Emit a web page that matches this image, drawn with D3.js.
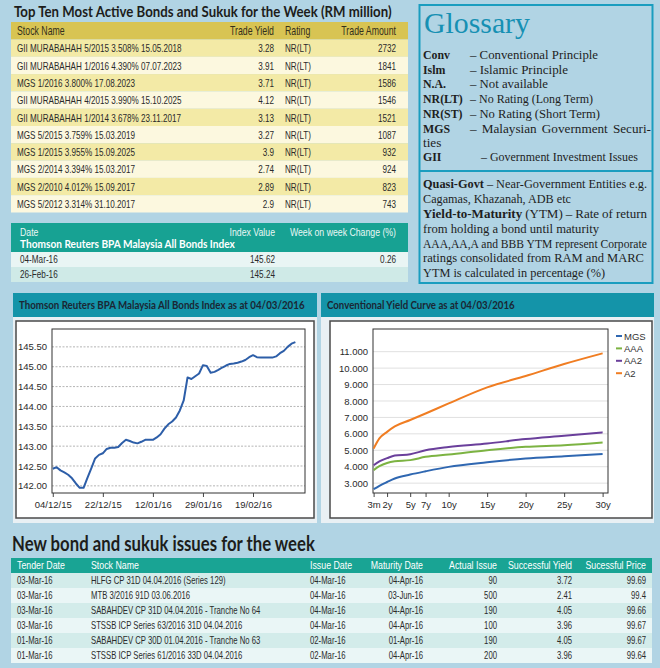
<!DOCTYPE html>
<html><head><meta charset="utf-8">
<script src="https://cdn.jsdelivr.net/npm/d3@7"></script>
<style>body{margin:0;background:#b1d4e4;}svg{display:block}</style>
</head><body><svg id="c" width="660" height="668"></svg>
<script>
// ---------------- DATA ----------------
const topTitle = "Top Ten Most Active Bonds and Sukuk for the Week (RM million)";
const topHeaders = ["Stock Name", "Trade Yield", "Rating", "Trade Amount"];
const topStocks = [
  "GII MURABAHAH 5/2015 3.508% 15.05.2018",
  "GII MURABAHAH 1/2016 4.390% 07.07.2023",
  "MGS 1/2016 3.800% 17.08.2023",
  "GII MURABAHAH 4/2015 3.990% 15.10.2025",
  "GII MURABAHAH 1/2014 3.678% 23.11.2017",
  "MGS 5/2015 3.759% 15.03.2019",
  "MGS 1/2015 3.955% 15.09.2025",
  "MGS 2/2014 3.394% 15.03.2017",
  "MGS 2/2010 4.012% 15.09.2017",
  "MGS 5/2012 3.314% 31.10.2017"
];
const topYields = [3.28, 3.91, 3.71, 4.12, 3.13, 3.27, 3.9, 2.74, 2.89, 2.9];
const topRatings = ["NR(LT)", "NR(LT)", "NR(LT)", "NR(LT)", "NR(LT)", "NR(LT)", "NR(LT)", "NR(LT)", "NR(LT)", "NR(LT)"];
const topAmounts = [2732, 1841, 1586, 1546, 1521, 1087, 932, 924, 823, 743];

const indexHeaders = ["Date", "Index Value", "Week on week Change (%)"];
const indexName = "Thomson Reuters BPA Malaysia All Bonds Index";
const indexDates = ["04-Mar-16", "26-Feb-16"];
const indexValues = [145.62, 145.24];
const indexChanges = ["0.26", ""];

const glossAbbr = ["Conv", "Islm", "N.A.", "NR(LT)", "NR(ST)", "MGS", "GII"];
const glossDef = ["– Conventional Principle", "– Islamic Principle", "– Not available",
  "– No Rating (Long Term)", "– No Rating (Short Term)", "– Malaysian Government Securi-",
  "– Government Investment Issues"];

const bpaTitle = "Thomson Reuters BPA Malaysia All Bonds Index as at 04/03/2016";
const bpaValues = [
  142.43,142.47,142.39,142.34,142.28,142.19,142.06,141.95,141.95,142.20,
  142.44,142.69,142.78,142.82,142.93,142.96,142.96,142.98,143.08,143.16,
  143.13,143.09,143.07,143.11,143.16,143.16,143.16,143.22,143.30,143.44,
  143.55,143.62,143.72,143.90,144.15,144.73,144.69,144.76,144.83,145.04,
  145.02,144.85,144.87,144.92,144.98,145.03,145.07,145.08,145.10,145.13,
  145.17,145.24,145.29,145.24,145.23,145.23,145.23,145.23,145.26,145.34,
  145.40,145.50,145.58,145.62];
const bpaTickIdx = [0, 13, 26, 39, 52];
const bpaTickLabels = ["04/12/15", "22/12/15", "12/01/16", "29/01/16", "19/02/16"];
const bpaYTicks = [142.0, 142.5, 143.0, 143.5, 144.0, 144.5, 145.0, 145.5];

const curveTitle = "Conventional Yield Curve as at 04/03/2016";
const tenors = [0.25, 1, 2, 3, 5, 7, 10, 15, 20, 25, 30];
const mgsYield = [2.63, 2.84, 3.07, 3.28, 3.52, 3.72, 3.99, 4.27, 4.50, 4.64, 4.78];
const aaaYield = [3.79, 4.03, 4.23, 4.33, 4.40, 4.60, 4.74, 5.00, 5.21, 5.31, 5.48];
const aa2Yield = [4.09, 4.32, 4.52, 4.68, 4.76, 5.00, 5.20, 5.41, 5.68, 5.88, 6.09];
const a2Yield  = [5.10, 5.72, 6.12, 6.45, 6.84, 7.24, 7.85, 8.83, 9.52, 10.25, 10.90];
const curveNames = ["MGS", "AAA", "AA2", "A2"];
const curveColors = ["#2f67b1", "#7cb342", "#6a3f9b", "#f07d22"];
const curveTickVals = [0.25, 2, 5, 7, 10, 15, 20, 25, 30];
const curveTickLabels = ["3m", "2y", "5y", "7y", "10y", "15y", "20y", "25y", "30y"];
const curveYTicks = [3, 4, 5, 6, 7, 8, 9, 10, 11];

const newTitle = "New bond and sukuk issues for the week";
const newHeaders = ["Tender Date", "Stock Name", "Issue Date", "Maturity Date", "Actual Issue", "Successful Yield", "Sucessful Price"];
const newTender = ["03-Mar-16", "03-Mar-16", "03-Mar-16", "03-Mar-16", "01-Mar-16", "01-Mar-16"];
const newStock = ["HLFG CP 31D 04.04.2016 (Series 129)", "MTB 3/2016 91D 03.06.2016",
  "SABAHDEV CP 31D 04.04.2016 - Tranche No 64", "STSSB ICP Series 63/2016 31D 04.04.2016",
  "SABAHDEV CP 30D 01.04.2016 - Tranche No 63", "STSSB ICP Series 61/2016 33D 04.04.2016"];
const newIssue = ["04-Mar-16", "04-Mar-16", "04-Mar-16", "04-Mar-16", "02-Mar-16", "02-Mar-16"];
const newMaturity = ["04-Apr-16", "03-Jun-16", "04-Apr-16", "04-Apr-16", "01-Apr-16", "04-Apr-16"];
const newActual = [90, 500, 190, 100, 190, 200];
const newYield = [3.72, 2.41, 4.05, 3.96, 4.05, 3.96];
const newPrice = [99.69, 99.4, 99.66, 99.67, 99.67, 99.64];

// ---------------- STYLE ----------------
const SANS = "'Liberation Sans',Arial,sans-serif";
const TITLE = "Lato,'Open Sans',sans-serif";
const SERIF = "'Liberation Serif','DejaVu Serif',serif";

const svg = d3.select("#c");
svg.append("rect").attr("width", 660).attr("height", 668).attr("fill", "#b1d4e4");

// text helper: condensed rendering via horizontal scale; o.len fits the text to a width
function txt(g, x, y, s, o = {}) {
  let sx = o.sx || 1;
  const w = g.append("g").attr("transform", `translate(${x},${y}) scale(${sx},1)`);
  const t = w.append("text").text(s)
    .attr("font-family", o.f || SANS).attr("font-size", o.s || 10)
    .attr("fill", o.c || "#222").attr("text-anchor", o.a || "start");
  if (o.w) t.attr("font-weight", o.w);
  if (o.len) {
    const nat = t.node().getComputedTextLength();
    if (nat > 0) sx = o.len / nat;
    w.attr("transform", `translate(${x},${y}) scale(${sx},1)`);
  }
  return t;
}

// ---------------- TOP TABLE ----------------
txt(svg, 14, 16.5, topTitle, {f: TITLE, s: 15.5, w: 700, c: "#1d1d1b", len: 378});
const tt = {x0: 11, x1: 408, hy: 22, hh: 17.5, rh: 17.3};
const topCols = [{x: 17, a: "start"}, {x: 274, a: "end"}, {x: 285, a: "start"}, {x: 396, a: "end"}];
svg.append("rect").attr("x", tt.x0).attr("y", tt.hy).attr("width", tt.x1 - tt.x0).attr("height", tt.hh).attr("fill", "#d8c453");
topHeaders.forEach((h, j) => txt(svg, topCols[j].x, tt.hy + 13, h, {s: 12, sx: 0.73, a: topCols[j].a, c: "#332f1c"}));
const topRows = svg.append("g").selectAll("g").data(d3.range(topStocks.length)).join("g")
  .attr("transform", i => `translate(0,${tt.hy + tt.hh + i * tt.rh})`);
topRows.append("rect").attr("x", tt.x0).attr("width", tt.x1 - tt.x0).attr("height", tt.rh)
  .attr("fill", i => i % 2 === 0 ? "#f3eaa6" : "#fcf8df");
topRows.each(function (i) {
  const g = d3.select(this);
  const vals = [topStocks[i], String(topYields[i]), topRatings[i], String(topAmounts[i])];
  vals.forEach((v, j) => txt(g, topCols[j].x, 12.8, v, {s: 11.6, sx: 0.7, a: topCols[j].a, c: "#2b2b2b"}));
});

// ---------------- INDEX TABLE ----------------
const it = {x0: 11, x1: 408, hy: 223, hh: 29, rh: 15};
svg.append("rect").attr("x", it.x0).attr("y", it.hy).attr("width", it.x1 - it.x0).attr("height", it.hh).attr("fill", "#17a293");
const idxCols = [{x: 20, a: "start"}, {x: 275, a: "end"}, {x: 396, a: "end"}];
indexHeaders.forEach((h, j) => txt(svg, idxCols[j].x, it.hy + 12.5, h, {s: 11.2, sx: 0.78, a: idxCols[j].a, c: "#eaf7f5"}));
txt(svg, 20, it.hy + 24.5, indexName, {f: TITLE, s: 11, w: 700, c: "#ffffff", len: 215});
const idxRows = svg.append("g").selectAll("g").data(d3.range(indexDates.length)).join("g")
  .attr("transform", i => `translate(0,${it.hy + it.hh + i * it.rh})`);
idxRows.append("rect").attr("x", it.x0).attr("width", it.x1 - it.x0).attr("height", it.rh)
  .attr("fill", i => i % 2 === 0 ? "#e9f5f4" : "#cfeae7");
idxRows.each(function (i) {
  const g = d3.select(this);
  [indexDates[i], indexValues[i].toFixed(2), indexChanges[i]].forEach((v, j) =>
    txt(g, idxCols[j].x, 11.4, v, {s: 11.2, sx: 0.73, a: idxCols[j].a, c: "#2b2b2b"}));
});

// ---------------- GLOSSARY ----------------
const gl = svg.append("g");
gl.append("rect").attr("x", 419.5).attr("y", 5).attr("width", 233).attr("height", 278)
  .attr("fill", "none").attr("stroke", "#1a9dbf").attr("stroke-width", 2);
gl.append("line").attr("x1", 419.5).attr("x2", 652.5).attr("y1", 171).attr("y2", 171)
  .attr("stroke", "#1a9dbf").attr("stroke-width", 2);
txt(gl, 424, 33, "Glossary", {f: SERIF, s: 30, c: "#1690b3", len: 106});

const GS = 13.2, GC = "#1e1e1e";
function justify(g, words, x0, x1, y) {
  const nodes = words.map(w => txt(g, 0, y, w.t, {f: SERIF, s: GS, w: w.b ? 700 : null, c: GC}));
  const widths = nodes.map(n => n.node().getComputedTextLength());
  const total = d3.sum(widths), avail = x1 - x0, minGap = 3;
  let sx = 1, gap = (avail - total) / (words.length - 1);
  if (gap < minGap) { gap = minGap; sx = (avail - minGap * (words.length - 1)) / total; }
  let x = x0;
  nodes.forEach((n, i) => {
    d3.select(n.node().parentNode).attr("transform", `translate(${x},${y}) scale(${sx},1)`);
    x += widths[i] * sx + gap;
  });
}
const gY = [58.5, 73.5, 88, 103, 117.5, 132.5, 160.5];
const gDefX = [470, 470, 470, 470, 470, 470, 481];
const gDefW = [128, 98, 78, 123, 130, null, 157];
glossAbbr.forEach((a, i) => {
  txt(gl, 423, gY[i], a, {f: SERIF, s: GS, sx: 0.9, w: 700, c: GC});
  if (gDefW[i] === null) {
    justify(gl, glossDef[i].split(" ").map(t => ({t})), gDefX[i], 651, gY[i]);
  } else {
    txt(gl, gDefX[i], gY[i], glossDef[i], {f: SERIF, s: GS, c: GC, len: gDefW[i]});
  }
});
txt(gl, 423, 146.5, "ties", {f: SERIF, s: GS, c: GC});

const g2Y = [187.5, 203, 218, 232.5, 247.5, 262, 276.5];
justify(gl, [{t: "Quasi-Govt", b: true}, {t: "–"}, {t: "Near-Government"}, {t: "Entities"}, {t: "e.g."}], 423, 647, g2Y[0]);
txt(gl, 423, g2Y[1], "Cagamas, Khazanah, ADB etc", {f: SERIF, s: GS, c: GC, len: 148});
justify(gl, [{t: "Yield-to-Maturity", b: true}, {t: "(YTM)"}, {t: "–"}, {t: "Rate"}, {t: "of"}, {t: "return"}], 423, 647, g2Y[2]);
txt(gl, 423, g2Y[3], "from holding a bond until maturity", {f: SERIF, s: GS, c: GC, len: 176});
txt(gl, 423, g2Y[4], "AAA,AA,A and BBB YTM represent Corporate", {f: SERIF, s: GS, c: GC, len: 224});
txt(gl, 423, g2Y[5], "ratings consolidated from RAM and MARC", {f: SERIF, s: GS, c: GC, len: 221});
txt(gl, 423, g2Y[6], "YTM is calculated in percentage (%)", {f: SERIF, s: GS, c: GC, len: 182});

// ---------------- CHART PANELS ----------------
function panel(x, w, title, tlen, box) {
  svg.append("rect").attr("x", x).attr("y", 293).attr("width", w).attr("height", 24).attr("fill", "#1494a9");
  txt(svg, x + 6, 309, title, {f: TITLE, s: 11.5, w: 700, c: "#1b2633", len: tlen});
  svg.append("rect").attr("x", x).attr("y", 317).attr("width", w).attr("height", 206).attr("fill", "#e9f0f4");
  svg.append("rect").attr("x", box[0]).attr("y", 321).attr("width", box[1]).attr("height", 197)
    .attr("fill", "#ffffff").attr("stroke", "#4a4a4a").attr("stroke-width", 1.5);
}
panel(13, 304, bpaTitle, 286, [16, 298]);
panel(321, 333, curveTitle, 188, [330, 322]);

function styleAxis(g) {
  g.selectAll("text").attr("font-family", SANS).attr("font-size", 9.5).attr("fill", "#2a2a2a");
  g.selectAll(".domain").remove();
  g.selectAll(".tick line").attr("stroke", "#444");
}

// Left line chart
const L = {x0: 52, x1: 305, y0: 329, y1: 493};
const xL = d3.scaleLinear().domain([-0.2, 65.5]).range([L.x0, L.x1]);
const yL = d3.scaleLinear().domain([141.82, 145.95]).range([L.y1, L.y0]);
const lc = svg.append("g");
lc.append("g").selectAll("line").data(bpaYTicks).join("line")
  .attr("x1", L.x0).attr("x2", L.x1).attr("y1", d => yL(d)).attr("y2", d => yL(d))
  .attr("stroke", "#b5b5b5").attr("stroke-dasharray", "2,1.5");
lc.append("g").attr("transform", `translate(${L.x0},0)`)
  .call(d3.axisLeft(yL).tickValues(bpaYTicks).tickFormat(d3.format(".2f")).tickSize(0).tickPadding(5))
  .call(styleAxis);
lc.append("g").attr("transform", `translate(0,${L.y1})`)
  .call(d3.axisBottom(xL).tickValues(bpaTickIdx).tickFormat((d, i) => bpaTickLabels[i]).tickSize(4).tickPadding(4))
  .call(styleAxis);
lc.append("rect").attr("x", L.x0).attr("y", L.y0).attr("width", L.x1 - L.x0).attr("height", L.y1 - L.y0)
  .attr("fill", "none").attr("stroke", "#333").attr("stroke-width", 1);
lc.append("path").datum(bpaValues)
  .attr("d", d3.line().x((d, i) => xL(i)).y(d => yL(d)))
  .attr("fill", "none").attr("stroke", "#2d5ea8").attr("stroke-width", 2).attr("stroke-linejoin", "round");

// Right yield-curve chart
const R = {x0: 373, x1: 608, y0: 329, y1: 493};
const xR = d3.scaleLinear().domain([0.17, 30.7]).range([R.x0, R.x1]);
const yR = d3.scaleLinear().domain([2.4, 12.38]).range([R.y1, R.y0]);
const rc = svg.append("g");
rc.append("g").selectAll("line").data(curveYTicks).join("line")
  .attr("x1", R.x0).attr("x2", R.x1).attr("y1", d => yR(d)).attr("y2", d => yR(d))
  .attr("stroke", "#e0e0e0").attr("stroke-width", 1);
rc.append("g").attr("transform", `translate(${R.x0},0)`)
  .call(d3.axisLeft(yR).tickValues(curveYTicks).tickFormat(d3.format(".3f")).tickSize(0).tickPadding(5))
  .call(styleAxis);
rc.append("g").attr("transform", `translate(0,${R.y1})`)
  .call(d3.axisBottom(xR).tickValues(curveTickVals).tickFormat((d, i) => curveTickLabels[i]).tickSize(4).tickPadding(4))
  .call(styleAxis);
rc.append("rect").attr("x", R.x0).attr("y", R.y0).attr("width", R.x1 - R.x0).attr("height", R.y1 - R.y0)
  .attr("fill", "none").attr("stroke", "#333").attr("stroke-width", 1);
const series = [mgsYield, aaaYield, aa2Yield, a2Yield];
const lineR = d3.line().x((d, i) => xR(tenors[i])).y(d => yR(d)).curve(d3.curveMonotoneX);
rc.append("g").selectAll("path").data(series).join("path")
  .attr("d", lineR).attr("fill", "none").attr("stroke", (d, i) => curveColors[i]).attr("stroke-width", 2);
const leg = rc.append("g").selectAll("g").data(curveNames).join("g")
  .attr("transform", (d, i) => `translate(616,${336 + i * 12.4})`);
leg.append("line").attr("x1", 0).attr("x2", 6).attr("stroke", (d, i) => curveColors[i]).attr("stroke-width", 2);
leg.append("text").attr("x", 8).attr("y", 3.5).text(d => d)
  .attr("font-family", SANS).attr("font-size", 9.5).attr("fill", "#333");

// ---------------- NEW ISSUES TABLE ----------------
txt(svg, 12, 551, newTitle, {f: TITLE, s: 20, w: 700, c: "#1d1d1b", len: 303});
const nt = {x0: 11, x1: 652, hy: 558, hh: 15, rh: 15};
const newCols = [{x: 17, a: "start"}, {x: 91, a: "start"}, {x: 310, a: "start"}, {x: 423, a: "end"},
  {x: 497, a: "end"}, {x: 572, a: "end"}, {x: 646, a: "end"}];
svg.append("rect").attr("x", nt.x0).attr("y", nt.hy).attr("width", nt.x1 - nt.x0).attr("height", nt.hh).attr("fill", "#19a494");
newHeaders.forEach((h, j) => txt(svg, newCols[j].x, nt.hy + 11.2, h, {s: 11, sx: 0.8, a: newCols[j].a, c: "#ffffff"}));
const newRows = svg.append("g").selectAll("g").data(d3.range(newTender.length)).join("g")
  .attr("transform", i => `translate(0,${nt.hy + nt.hh + i * nt.rh})`);
newRows.append("rect").attr("x", nt.x0).attr("width", nt.x1 - nt.x0).attr("height", nt.rh)
  .attr("fill", i => i % 2 === 0 ? "#d3ecea" : "#eaf6f6");
newRows.each(function (i) {
  const g = d3.select(this);
  [newTender[i], newStock[i], newIssue[i], newMaturity[i], String(newActual[i]), String(newYield[i]), String(newPrice[i])]
    .forEach((v, j) => txt(g, newCols[j].x, 11.4, v, {s: 11.2, sx: 0.69, a: newCols[j].a, c: "#2b2b2b"}));
});
</script></body></html>
